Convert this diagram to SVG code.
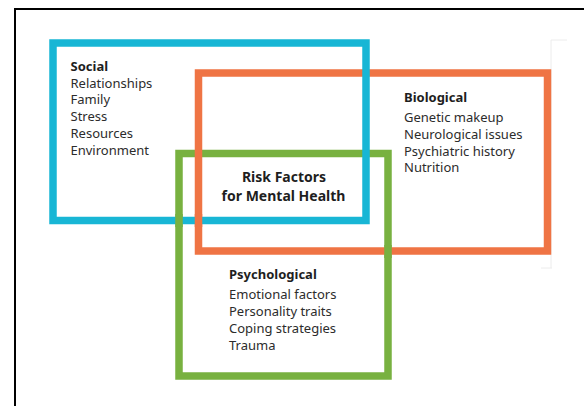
<svg xmlns="http://www.w3.org/2000/svg" width="584" height="406" viewBox="0 0 584 406">
<style>
.box{fill:none;stroke-width:7.5}
.blue{stroke:#18b6d5}
.orange{stroke:#ef7444}
.green{stroke:#78b140}
.head{font-family:"Noto Sans","Liberation Sans",sans-serif;font-size:13px;font-weight:bold;fill:#1e1e1e}
.item{font-family:"Noto Sans","Liberation Sans",sans-serif;font-size:13px;fill:#2c2c2c}
.title{font-family:"Noto Sans","Liberation Sans",sans-serif;font-size:14px;font-weight:bold;fill:#1e1e1e;text-anchor:middle}
</style>
<rect width="584" height="406" fill="#ffffff"/>
<path d="M15,406 V9 H584" fill="none" stroke="#000" stroke-width="2"/>
<path d="M551,40 H567 M551,40 V268 M541,268 H552" fill="none" stroke="#ececec" stroke-width="1"/>
<g id="connectors"/>
<g id="psychological">
<rect class="box green" x="179" y="153.5" width="209" height="222.5"/>
</g>
<g id="biological">
<rect class="box orange" x="198.5" y="73" width="349" height="178"/>
</g>
<g id="social">
<rect class="box blue" x="53" y="43" width="313" height="177.5"/>
</g>
<g id="weave">
<line class="orange" x1="198.5" y1="214" x2="198.5" y2="227" stroke-width="7.5"/>
<line class="green" x1="179" y1="214" x2="179" y2="227" stroke-width="7.5"/>
<line class="green" x1="388" y1="245" x2="388" y2="258" stroke-width="7.5"/>
</g>
<g id="social-text">
<text class="head" x="70.5" y="70.5">Social</text>
<text class="item" x="70.5" y="87.5">Relationships</text>
<text class="item" x="70.5" y="104">Family</text>
<text class="item" x="70.5" y="121">Stress</text>
<text class="item" x="70.5" y="138">Resources</text>
<text class="item" x="70.5" y="155">Environment</text>
</g>
<g id="biological-text">
<text class="head" x="404" y="101.5">Biological</text>
<text class="item" x="404" y="122">Genetic makeup</text>
<text class="item" x="404" y="139">Neurological issues</text>
<text class="item" x="404" y="155.5">Psychiatric history</text>
<text class="item" x="404" y="172">Nutrition</text>
</g>
<g id="center">
<text class="title" x="284" y="181.5">Risk Factors</text>
<text class="title" x="283.5" y="200.5">for Mental Health</text>
</g>
<g id="psychological-text">
<text class="head" x="229" y="278.5">Psychological</text>
<text class="item" x="229" y="299">Emotional factors</text>
<text class="item" x="229" y="316">Personality traits</text>
<text class="item" x="229" y="332.5">Coping strategies</text>
<text class="item" x="229" y="349.5">Trauma</text>
</g>
</svg>
